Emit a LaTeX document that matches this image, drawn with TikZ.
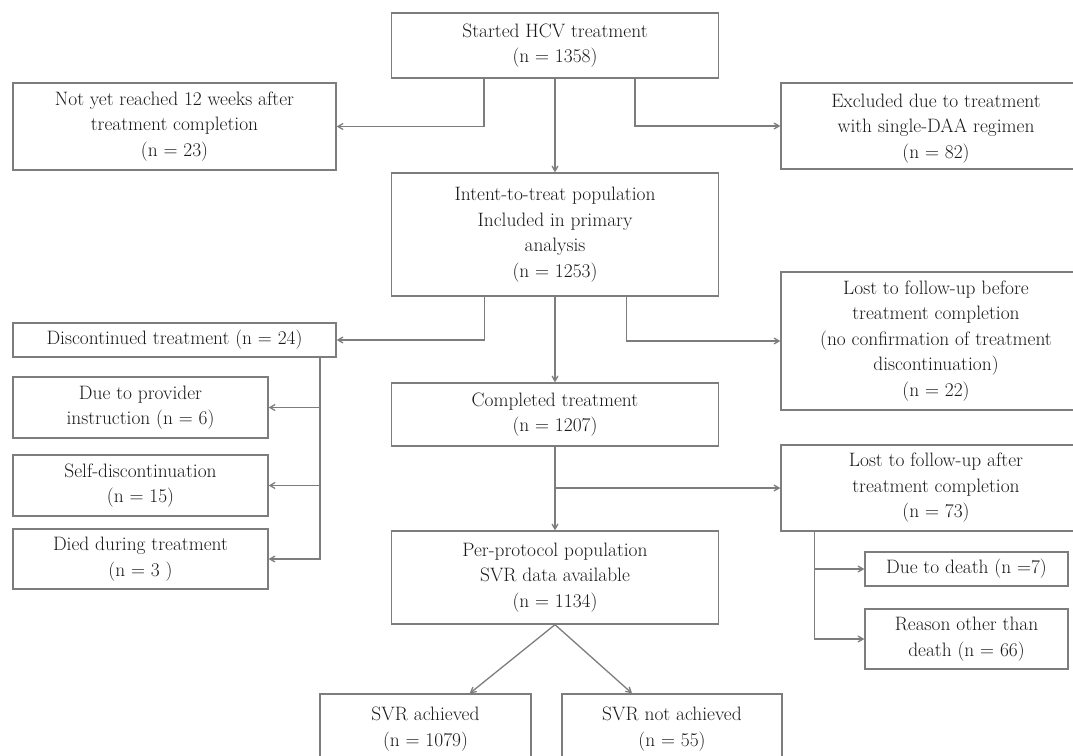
\documentclass[tikz,border=0pt]{standalone}
\usepackage{fontspec}
\usepackage{tikz}
\usepackage{xcolor}
\usetikzlibrary{arrows}
\definecolor{linegray}{RGB}{125,125,125}
\definecolor{textgray}{RGB}{25,25,25}
\tikzstyle{box} = [rectangle, draw=linegray, line width=1.3pt, align=center, text=textgray, font=\fontsize{19.4}{25.5}\selectfont, inner sep=2pt]
\tikzstyle{blockm} = [box, minimum width=327pt]
\tikzstyle{blockl} = [box, minimum width=323pt]
\tikzstyle{blockr} = [box, minimum width=310pt]
\tikzstyle{subl} = [box, minimum width=255pt]
\tikzstyle{subr} = [box, minimum width=203pt]
\tikzstyle{line} = [draw=linegray, line width=1.3pt, ->, >=angle 60]

\begin{document}
\begin{tikzpicture}[x=1pt, y=1pt, node distance=180pt, auto]
\useasboundingbox (-555,45.5) rectangle (518,-709.5);

\node [blockm, minimum height=65pt] (S) {Started HCV treatment\\(n = 1358)};
\node [blockm, below of=S, yshift=-9pt, minimum height=123pt] (ITT) {Intent-to-treat population\\Included in primary\\analysis\\(n = 1253)};
\node [blockm, below of=ITT, minimum height=63pt] (C) {Completed treatment\\(n = 1207)};
\node [blockm, below of=C, yshift=17pt, minimum height=93pt] (PP) {Per-protocol population\\SVR data available\\(n = 1134)};

\node [blockl, left of=S, xshift=-200.5pt, yshift=-81pt, minimum height=87pt] (NY) {Not yet reached 12 weeks after\\treatment completion\\(n = 23)};
\node [blockr, right of=S, xshift=201pt, yshift=-80.5pt, minimum height=86pt, text depth=0pt] (EX) {Excluded due to treatment\\with single-DAA regimen\\(n = 82)};

\node [blockl, left of=ITT, xshift=-200.5pt, yshift=-105.5pt, minimum height=34pt] (DT) {Discontinued treatment (n = 24)};
\node [blockr, right of=ITT, xshift=201pt, yshift=-106.5pt, minimum height=138pt] (LB) {Lost to follow-up before\\treatment completion\\(no confirmation of treatment\\discontinuation)\\(n = 22)};

\node [subl, below of=DT, node distance=67.5pt, xshift=-34pt, minimum height=61pt] (DP) {Due to provider\\instruction (n = 6)};
\node [subl, below of=DP, node distance=78pt, minimum height=61pt] (SD) {Self-discontinuation\\(n = 15)};
\node [subl, below of=SD, node distance=73.5pt, minimum height=60pt] (DI) {Died during treatment\\(n = 3 )};

\node [blockr, right of=C, xshift=201pt, yshift=-73.5pt, minimum height=86pt] (LA) {Lost to follow-up after\\treatment completion\\(n = 73)};
\node [subr, below of=LA, node distance=81pt, xshift=30.5pt, minimum height=34pt] (DD) {Due to death (n =7)};
\node [subr, below of=DD, node distance=70pt, minimum height=60pt] (RO) {Reason other than\\death (n = 66)};

\node [box, below of=PP, node distance=151.5pt, xshift=-129.5pt, minimum width=211pt, minimum height=70pt] (SA) {SVR achieved\\(n = 1079)};
\node [box, below of=PP, node distance=151.5pt, xshift=117pt, minimum width=220pt, minimum height=70pt] (SN) {SVR not achieved\\(n = 55)};

\path [line] (S) -- (ITT);
\path [line] ([xshift=-71pt]S.south) |- (NY);
\path [line] ([xshift=80pt]S.south) |- (EX);

\path [line] (ITT) -- (C);
\path [line] ([xshift=-70.5pt]ITT.south) |- (DT);
\path [line] ([xshift=71.5pt]ITT.south) |- (LB);

\path [line] ([xshift=145.5pt]DT.south) |- (DP);
\path [line] ([xshift=145.5pt]DT.south) |- (SD);
\path [line] ([xshift=145.5pt]DT.south) |- (DI);

\path [line] (C) -- (PP);
\path [line] (C.south |- LA) -- (LA);
\path [line] ([xshift=-121.5pt]LA.south) |- (DD);
\path [line] ([xshift=-121.5pt]LA.south) |- (RO);

\path [line] (PP.south) -- (SA);
\path [line] (PP.south) -- (SN);

\end{tikzpicture}
\end{document}
